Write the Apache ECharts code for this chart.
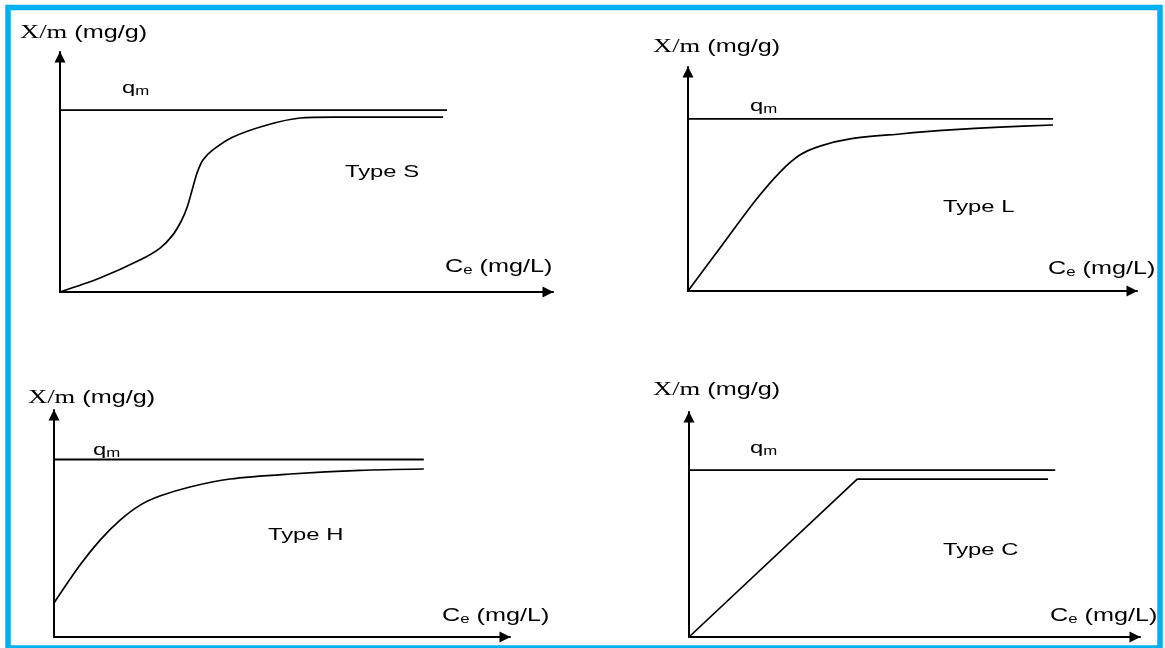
<!DOCTYPE html>
<html><head><meta charset="utf-8">
<script src="https://cdn.jsdelivr.net/npm/echarts@6/dist/echarts.min.js"></script>
<style>html,body{margin:0;padding:0;background:#fff}#c{width:1165px;height:648px}</style>
</head><body><div id="c"></div>
<script>
// ---------- data (axis units: 0..100 from origin to arrow tip) ----------
const panelNames = ['Type S', 'Type L', 'Type H', 'Type C'];
const yTitleParts = ['X/m', ' (mg/g)'];
const xTitleParts = ['C', 'e', ' (mg/L)'];
const qmParts = ['q', 'm'];

const sX = [0, 8.1, 16.2, 20.3, 22.9, 24.7, 25.8, 26.8, 27.8, 29.0, 31.0, 35.1, 42.0, 48.7, 55.4, 77.7];
const sY = [0, 5.8, 13.3, 18.3, 23.8, 30.0, 35.4, 42.5, 49.6, 55.0, 59.2, 64.6, 69.6, 72.5, 72.9, 72.9];

const lX = [0, 7.5, 15.1, 20.5, 24.9, 29.4, 36.1, 47.2, 58.4, 69.5, 81.3];
const lY = [0, 20.2, 40.6, 53.1, 60.7, 64.7, 67.9, 70.1, 71.9, 73.2, 74.1];

const hX = [0, 5.7, 10.1, 14.5, 18.9, 23.2, 29.8, 38.6, 51.8, 67.1, 81.1];
const hY = [15.0, 31.7, 42.7, 51.5, 58.1, 62.1, 66.1, 69.6, 71.8, 73.4, 74.0];

const cX = [0, 37.3, 79.6];
const cY = [0, 70.2, 70.2];

const qmLevel = [75.8, 76.8, 78.2, 74.2];
const qmEnd = [78.5, 81.3, 81.1, 81.2];

// ---------- layout ----------
const grids = [
  {left: 60, top: 52, width: 493, height: 240},
  {left: 688, top: 67, width: 449, height: 224},
  {left: 54, top: 410, width: 456, height: 227},
  {left: 689, top: 412, width: 451, height: 225}
];
const curves = [[sX, sY, true], [lX, lY, true], [hX, hY, true], [cX, cY, false]];
const yTitlePos = [[20, 33], [653, 47], [28, 398], [653, 390]];
const qmPos = [[122, 88], [750, 106], [93, 450], [750, 448]];
const typePos = [[345, 172], [943, 207], [268, 535], [943, 550]];
const xTitlePos = [[445, 267], [1048, 269], [442, 616], [1050, 616]];

const SX = 1.4;
const ctx = document.createElement('canvas').getContext('2d');
function textGroup(x, y, parts) {
  const children = [];
  let cx = 0;
  parts.forEach(p => {
    const font = p.size + 'px ' + p.family;
    ctx.font = font;
    const w = ctx.measureText(p.t).width;
    children.push({type: 'text', x: cx, y: p.dy || 0, style: {text: p.t, font: font, fill: '#000', verticalAlign: 'middle', align: 'left'}});
    cx += w;
  });
  return {type: 'group', x: x, y: y, scaleX: SX, children: children};
}
const SANS = "'Liberation Sans', Arial, sans-serif";
const SERIF = "'Liberation Serif', 'Times New Roman', serif";

const graphic = [{
  type: 'rect', shape: {x: 8, y: 7.5, width: 1152, height: 640.5},
  style: {fill: 'none', stroke: '#00b0f0', lineWidth: 5.5}, z: 100
}];
for (let i = 0; i < 4; i++) {
  graphic.push(textGroup(yTitlePos[i][0], yTitlePos[i][1], [
    {t: yTitleParts[0], size: 19, family: SERIF},
    {t: yTitleParts[1], size: 18, family: SANS}
  ]));
  graphic.push(textGroup(qmPos[i][0], qmPos[i][1], [
    {t: qmParts[0], size: 17, family: SANS},
    {t: qmParts[1], size: 12, family: SANS, dy: 4}
  ]));
  graphic.push(textGroup(typePos[i][0], typePos[i][1], [
    {t: panelNames[i], size: 17, family: SANS}
  ]));
  graphic.push(textGroup(xTitlePos[i][0], xTitlePos[i][1], [
    {t: xTitleParts[0], size: 18, family: SANS},
    {t: xTitleParts[1], size: 12, family: SANS, dy: 4},
    {t: xTitleParts[2], size: 18, family: SANS}
  ]));
}

const axisCommon = {
  type: 'value', min: 0, max: 100,
  axisLine: {show: true, onZero: false, symbol: ['none', 'triangle'], symbolSize: [11, 11], symbolOffset: [0, -5],
    lineStyle: {color: '#000', width: 2}},
  axisTick: {show: false}, axisLabel: {show: false}, splitLine: {show: false}
};

const series = [];
curves.forEach((c, i) => {
  series.push({
    type: 'line', xAxisIndex: i, yAxisIndex: i, symbol: 'none',
    smooth: c[2] ? 0.3 : false,
    lineStyle: {color: '#000', width: 1.7},
    data: c[0].map((x, k) => [x, c[1][k]])
  });
  series.push({
    type: 'line', xAxisIndex: i, yAxisIndex: i, symbol: 'none',
    lineStyle: {color: '#000', width: 1.8},
    data: [[0, qmLevel[i]], [qmEnd[i], qmLevel[i]]]
  });
});

const chart = echarts.init(document.getElementById('c'), null, {renderer: 'canvas'});
chart.setOption({
  backgroundColor: '#fff',
  animation: false,
  grid: grids,
  xAxis: grids.map((g, i) => Object.assign({gridIndex: i}, axisCommon)),
  yAxis: grids.map((g, i) => Object.assign({gridIndex: i}, axisCommon)),
  series: series,
  graphic: graphic
});
</script></body></html>
